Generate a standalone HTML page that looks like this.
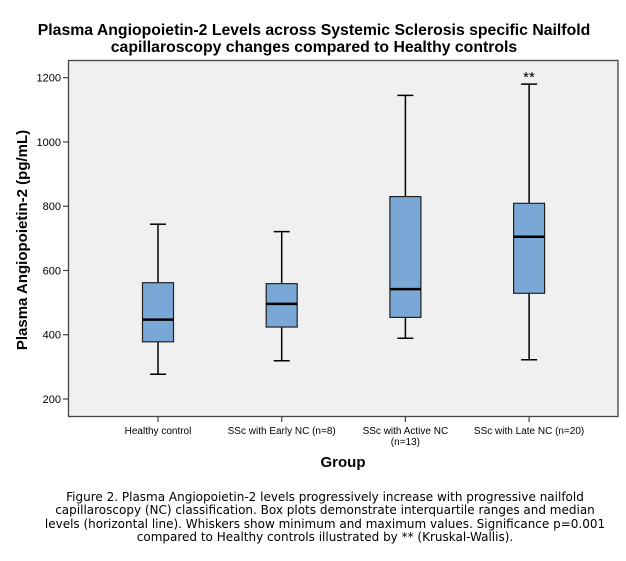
<!DOCTYPE html>
<html><head><meta charset="utf-8"><style>
body{margin:0;background:#fff;width:626px;height:561px;overflow:hidden;font-family:"Liberation Sans",Arial,sans-serif}
.cap{position:absolute;left:0;top:491px;width:650px;text-align:center;font-family:"DejaVu Sans",sans-serif;font-size:12px;line-height:13.3px;color:#000}
</style></head><body>
<svg id="chart" width="626" height="490" style="position:absolute;left:0;top:0">
<text x="314" y="35" text-anchor="middle" font-weight="bold" font-size="15.8">Plasma Angiopoietin-2 Levels across Systemic Sclerosis specific Nailfold</text>
<text x="314" y="52" text-anchor="middle" font-weight="bold" font-size="15.8">capillaroscopy changes compared to Healthy controls</text>
<rect x="68.5" y="60.5" width="549.5" height="356" fill="#f0f0f0" stroke="#444" stroke-width="1.3"/>
<g id="axes"></g><g id="boxes"></g>
<text transform="translate(27,240) rotate(-90)" text-anchor="middle" font-weight="bold" font-size="15">Plasma Angiopoietin-2 (pg/mL)</text>
<text x="343" y="467" text-anchor="middle" font-weight="bold" font-size="15">Group</text>
<text x="529" y="82" text-anchor="middle" font-size="15">**</text>
</svg>
<div class="cap">Figure 2. Plasma Angiopoietin-2 levels progressively increase with progressive nailfold<br>capillaroscopy (NC) classification. Box plots demonstrate interquartile ranges and median<br>levels (horizontal line). Whiskers show minimum and maximum values. Significance p=0.001<br>compared to Healthy controls illustrated by ** (Kruskal-Wallis).</div>
<script>
const categories=["Healthy control","SSc with Early NC (n=8)","SSc with Active NC|(n=13)","SSc with Late NC (n=20)"];
const mins=[277,319,389,322];
const q1s=[378,424,454,529];
const medians=[447,496,542,705];
const q3s=[562,559,830,809];
const maxs=[744,721,1145,1180];
const yTicks=[200,400,600,800,1000,1200];
const NS="http://www.w3.org/2000/svg";
function y(v){return 399-(v-200)*0.3213;}
function x(i){return 158+i*123.7;}
function mk(t,a,p){const e=document.createElementNS(NS,t);for(const k in a)e.setAttribute(k,a[k]);p.appendChild(e);return e;}
const ax=document.getElementById('axes'),bx=document.getElementById('boxes');
yTicks.forEach(v=>{
 const l=mk('line',{x1:63,x2:68.5,y1:y(v),y2:y(v),stroke:'#444','stroke-width':1.2},ax);
 
 
 const t=mk('text',{x:61,y:y(v)+4,'text-anchor':'end','font-size':11},ax);t.textContent=v;
 
 
});
categories.forEach((c,i)=>{
 const cx=x(i);
 const l=mk('line',{x1:cx,x2:cx,y1:416.5,y2:422,stroke:'#444','stroke-width':1.2},ax);
 
 
 c.split('|').forEach((s,j)=>{
  const t=mk('text',{x:cx,y:434+j*11,'text-anchor':'middle','font-size':10},ax);t.textContent=s;
  
  
 });
 const g=mk('g',{},bx);
 
 
 mk('line',{x1:cx,x2:cx,y1:y(maxs[i]),y2:y(q3s[i]),stroke:'#000','stroke-width':1.5},g);
 mk('line',{x1:cx,x2:cx,y1:y(q1s[i]),y2:y(mins[i]),stroke:'#000','stroke-width':1.5},g);
 mk('line',{x1:cx-8,x2:cx+8,y1:y(maxs[i]),y2:y(maxs[i]),stroke:'#000','stroke-width':1.5},g);
 mk('line',{x1:cx-8,x2:cx+8,y1:y(mins[i]),y2:y(mins[i]),stroke:'#000','stroke-width':1.5},g);
 mk('rect',{x:cx-15.5,y:y(q3s[i]),width:31,height:y(q1s[i])-y(q3s[i]),fill:'#7aa8d6',stroke:'#222','stroke-width':1.2},g);
 mk('line',{x1:cx-15.5,x2:cx+15.5,y1:y(medians[i]),y2:y(medians[i]),stroke:'#000','stroke-width':2.5},g);
});
</script>
</body></html>
